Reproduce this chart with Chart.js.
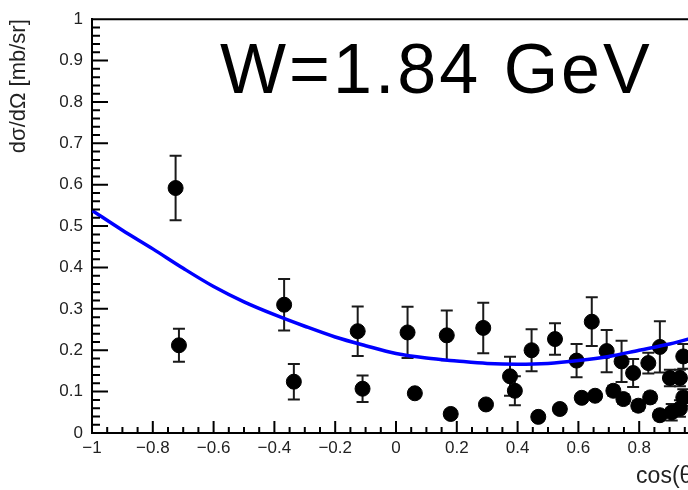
<!DOCTYPE html>
<html>
<head>
<meta charset="utf-8">
<script src="https://cdn.jsdelivr.net/npm/chart.js@4.4.0/dist/chart.umd.min.js"></script>
<style>
html, body { margin: 0; padding: 0; background: #fff; overflow: hidden; }
#spazio { width: 760px; height: 490px; }
</style>
</head>
<body>
<div id="spazio"><canvas id="grafico" width="760" height="490"></canvas></div>
<script>
// punti sperimentali: cos(theta), dsigma/dOmega, errore
const cosTheta = [-0.725, -0.714, -0.368, -0.336, -0.126, -0.110, 0.038, 0.062, 0.167, 0.180,
                  0.287, 0.296, 0.375, 0.391, 0.446, 0.468, 0.523, 0.539, 0.594, 0.611,
                  0.644, 0.655, 0.693, 0.715, 0.742, 0.748, 0.780, 0.797, 0.830, 0.836,
                  0.868, 0.868, 0.901, 0.907, 0.934, 0.934, 0.945, 0.945];
const sigma = [0.592, 0.212, 0.310, 0.124, 0.246, 0.107, 0.243, 0.096, 0.236, 0.046,
               0.254, 0.069, 0.137, 0.102, 0.200, 0.039, 0.227, 0.058, 0.175, 0.085,
               0.269, 0.090, 0.198, 0.102, 0.173, 0.082, 0.145, 0.066, 0.169, 0.086,
               0.208, 0.043, 0.133, 0.050, 0.133, 0.059, 0.185, 0.086];
const sigmaErr = [0.078, 0.040, 0.062, 0.043, 0.060, 0.032, 0.062, 0.010, 0.060, 0.010,
                  0.061, 0.010, 0.047, 0.035, 0.051, 0.010, 0.038, 0.010, 0.040, 0.010,
                  0.059, 0.010, 0.051, 0.012, 0.050, 0.012, 0.034, 0.012, 0.025, 0.012,
                  0.062, 0.012, 0.020, 0.020, 0.020, 0.020, 0.030, 0.020];

// curva blu (fit)
const fitCos = [-1, -0.9, -0.8, -0.7, -0.6, -0.5, -0.4, -0.3, -0.2, -0.1, 0,
                0.1, 0.2, 0.3, 0.4, 0.5, 0.6, 0.7, 0.8, 0.9, 1];
const fitSigma = [0.538, 0.490, 0.445, 0.398, 0.354, 0.317, 0.286, 0.258, 0.232, 0.211, 0.192,
                  0.181, 0.174, 0.168, 0.166, 0.168, 0.175, 0.185, 0.200, 0.215, 0.235];

// etichette assi
const xTicks = [-1, -0.8, -0.6, -0.4, -0.2, 0, 0.2, 0.4, 0.6, 0.8, 1];
const xTickLabels = ["\u22121", "\u22120.8", "\u22120.6", "\u22120.4", "\u22120.2", "0", "0.2", "0.4", "0.6", "0.8", "1"];
const yTicks = [0, 0.1, 0.2, 0.3, 0.4, 0.5, 0.6, 0.7, 0.8, 0.9, 1];
const yTickLabels = ["0", "0.1", "0.2", "0.3", "0.4", "0.5", "0.6", "0.7", "0.8", "0.9", "1"];

const titolo = "W=1.84 GeV";
const font = "'Liberation Sans', Arial, Helvetica, sans-serif";

const cornice = {
    id: 'cornice',
    beforeDatasetsDraw(chart) {
        // barre d'errore
        const ctx = chart.ctx, sx = chart.scales.x, sy = chart.scales.y;
        ctx.save();
        ctx.strokeStyle = '#1a1a1a';
        ctx.lineWidth = 2;
        for (let i = 0; i < cosTheta.length; i++) {
            const px = sx.getPixelForValue(cosTheta[i]);
            const alto = sy.getPixelForValue(sigma[i] + sigmaErr[i]);
            const basso = sy.getPixelForValue(sigma[i] - sigmaErr[i]);
            ctx.beginPath();
            ctx.moveTo(px, alto); ctx.lineTo(px, basso);
            ctx.moveTo(px - 6, alto); ctx.lineTo(px + 6, alto);
            ctx.moveTo(px - 6, basso); ctx.lineTo(px + 6, basso);
            ctx.stroke();
        }
        ctx.restore();
    },
    afterDraw(chart) {
        const ctx = chart.ctx, sx = chart.scales.x, sy = chart.scales.y;
        const a = chart.chartArea;
        ctx.save();
        ctx.strokeStyle = '#000';
        ctx.lineWidth = 2;
        ctx.beginPath();
        // tacche asse y (verso l'interno)
        for (let k = 0; k <= 50; k++) {
            const py = sy.getPixelForValue(k * 0.02);
            const l = (k % 5 === 0) ? 16 : 8;
            ctx.moveTo(a.left, py); ctx.lineTo(a.left + l, py);
        }
        // tacche asse x
        for (let k = 0; k <= 40; k++) {
            const px = sx.getPixelForValue(-1 + k * 0.05);
            const l = (k % 4 === 0) ? 12 : 6;
            ctx.moveTo(px, a.bottom); ctx.lineTo(px, a.bottom - l);
        }
        // bordo superiore
        ctx.moveTo(a.left, a.top); ctx.lineTo(a.right, a.top);
        ctx.stroke();

        ctx.fillStyle = '#000';
        ctx.font = "70px " + font;
        ctx.letterSpacing = '3px';
        ctx.textAlign = 'left';
        ctx.textBaseline = 'alphabetic';
        ctx.fillText(titolo, 220, 93);
        ctx.restore();
    }
};

new Chart(document.getElementById('grafico'), {
    type: 'scatter',
    data: {
        datasets: [{
            label: 'fit',
            data: fitCos.map((c, i) => ({x: c, y: fitSigma[i]})),
            showLine: true,
            borderColor: '#0000ff',
            borderWidth: 3.5,
            pointRadius: 0,
            cubicInterpolationMode: 'monotone',
            order: 0
        }, {
            label: 'dati',
            data: cosTheta.map((c, i) => ({x: c, y: sigma[i]})),
            backgroundColor: '#000',
            borderColor: '#000',
            pointRadius: 7.5,
            order: 1
        }]
    },
    options: {
        responsive: false,
        animation: false,
        layout: {padding: {left: 0, top: 11, right: 60, bottom: 0}},
        plugins: {legend: {display: false}, tooltip: {enabled: false}},
        scales: {
            x: {
                type: 'linear', min: -1, max: 1,
                afterBuildTicks: s => { s.ticks = xTicks.map(v => ({value: v})); },
                afterFit: s => { s.height = 57; },
                ticks: {
                    callback: (v, i) => xTickLabels[i],
                    font: {family: font, size: 17},
                    color: '#222',
                    maxRotation: 0,
                    autoSkip: false,
                    padding: 5
                },
                grid: {display: false, drawTicks: false},
                border: {display: true, color: '#000', width: 2},
                title: {
                    display: true, text: 'cos(\u03b8)', align: 'end',
                    font: {family: font, size: 23}, color: '#222',
                    padding: {top: 0, bottom: 0}
                }
            },
            y: {
                type: 'linear', min: 0, max: 1,
                afterBuildTicks: s => { s.ticks = yTicks.map(v => ({value: v})); },
                afterFit: s => { s.width = 92; },
                ticks: {
                    callback: (v, i) => yTickLabels[i],
                    font: {family: font, size: 17},
                    color: '#222',
                    autoSkip: false,
                    padding: 9
                },
                grid: {display: false, drawTicks: false},
                border: {display: true, color: '#000', width: 2},
                title: {
                    display: true, text: 'd\u03c3/d\u03a9 [mb/sr]', align: 'end',
                    font: {family: font, size: 22}, color: '#222',
                    padding: {top: 6, bottom: 0}
                }
            }
        }
    },
    plugins: [cornice]
});
</script>
</body>
</html>
